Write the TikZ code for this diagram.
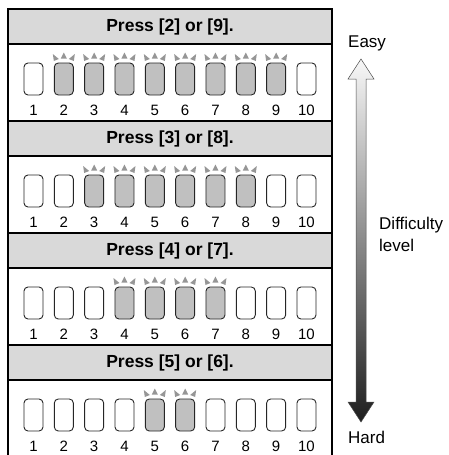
\documentclass[tikz,border=0pt]{standalone}
\usepackage{fontspec}
\setmainfont{Liberation Sans}
\definecolor{headgray}{RGB}{217,217,217}
\definecolor{keygray}{RGB}{192,192,192}
\definecolor{crowngray}{RGB}{150,150,150}
\tikzset{
  frame/.style={line width=2pt},
  keybox/.style={draw=black!85,line width=0.9pt,rounded corners=4pt,
    minimum width=19pt,minimum height=32pt,inner sep=0pt},
  headtext/.style={font=\fontsize{17.5}{20}\selectfont\bfseries},
  numtext/.style={font=\fontsize{15}{17}\selectfont,inner sep=0pt},
  sidetext/.style={font=\fontsize{17}{22}\selectfont,anchor=west,inner sep=0pt,align=left}
}
\begin{document}
\begin{tikzpicture}[x=1pt,y=-1pt]
\useasboundingbox (0,0) rectangle (449,455);
% panels
\foreach \k/\lo/\hi in {0/2/9,1/3/8,2/4/7,3/5/6} {
  \pgfmathsetmacro{\rowy}{112*\k}
  \fill[headgray] (8,9+\rowy) rectangle (332,44+\rowy);
  \draw[frame] (7,9+\rowy) -- (333,9+\rowy);
  \draw[frame] (7,44+\rowy) -- (333,44+\rowy);
  \node[headtext] (head\k) at (170,26.5+\rowy) {Press [\lo] or [\hi].};
  \foreach \i in {1,...,10} {
    \pgfmathsetmacro{\cx}{33.5+30.33*(\i-1)}
    \pgfmathtruncatemacro{\lit}{and(\i>=\lo,\i<=\hi)}
    \ifnum\lit=1
      \def\keyfill{keygray}
      \fill[crowngray] (\cx-3,58.5+\rowy) -- (\cx+3,58.5+\rowy) -- (\cx,52.5+\rowy) -- cycle;
      \fill[crowngray] (\cx-11,54+\rowy) -- (\cx-10,61+\rowy) -- (\cx-5,59+\rowy) -- cycle;
      \fill[crowngray] (\cx+11,54+\rowy) -- (\cx+10,61+\rowy) -- (\cx+5,59+\rowy) -- cycle;
    \else
      \def\keyfill{white}
    \fi
    \node[keybox,fill=\keyfill] (key\k-\i) at (\cx,79+\rowy) {};
    \node[numtext] (num\k-\i) at (\cx,110+\rowy) {\i};
  }
}
\draw[frame] (8,8) -- (8,455);
\draw[frame] (332,8) -- (332,455);
% difficulty arrow
\shade[top color=gray!6,bottom color=black!88,draw=gray!60!black,line width=0.5pt]
  (361,59) -- (374,79) -- (366,79) -- (366,402) -- (374,402) -- (361,422)
  -- (348,402) -- (356,402) -- (356,79) -- (348,79) -- cycle;
\node[sidetext] (easy) at (348,43) {Easy};
\node[sidetext] (hard) at (348,437) {Hard};
\node[sidetext] (level) at (379,234) {Difficulty\\level};
\end{tikzpicture}
\end{document}
